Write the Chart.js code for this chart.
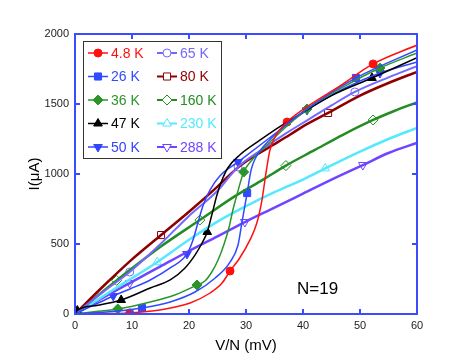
<!DOCTYPE html>
<html>
<head>
<meta charset="utf-8">
<script src="https://cdn.jsdelivr.net/npm/chart.js@4/dist/chart.umd.min.js"></script>
<style>
  html, body { margin: 0; padding: 0; background: #fff; }
</style>
</head>
<body>
<canvas id="ivCanvas" width="471" height="364"></canvas>
<script>
// fitted curves (V/N in mV, I in uA) and measured points per temperature
const v4_8 = [0, 5, 9.6, 14.9, 20.2, 23.7, 25.8, 27.2, 28.9, 30.7, 31.9, 32.8, 33.5, 34.2, 35.3, 37.2, 41.2, 46.5, 52.3, 60];
const i4_8 = [0, 3, 8, 29, 79, 150, 221, 307, 400, 529, 650, 814, 1007, 1171, 1279, 1371, 1493, 1629, 1786, 1921];
const pv4_8 = [9.6, 27.2, 37.2, 52.3];
const pi4_8 = [8, 307, 1371, 1786];

const v26 = [0, 5, 11.75, 16.7, 21.05, 24.6, 27.2, 28.6, 29.3, 30.2, 30.9, 31.75, 33.3, 36.8, 41.2, 49.3, 60];
const i26 = [0, 12, 43, 86, 157, 257, 371, 493, 657, 864, 1029, 1121, 1207, 1343, 1479, 1686, 1886];
const pv26 = [11.75, 30.2, 49.3];
const pi26 = [43, 864, 1686];

const v36 = [0, 3, 7.5, 13.2, 17.5, 21.4, 22.8, 24, 25.1, 26.1, 27, 27.7, 28.4, 29.6, 31.05, 33.3, 36.8, 40.7, 47.4, 53.5, 60];
const i36 = [0, 15, 36, 86, 136, 207, 236, 300, 386, 493, 614, 743, 850, 1014, 1100, 1193, 1329, 1464, 1629, 1757, 1864];
const pv36 = [7.5, 21.4, 29.6, 40.7, 53.5];
const pi36 = [36, 207, 1014, 1464, 1757];

const v47 = [0, 0.4, 4, 8.1, 13.2, 16.7, 19.3, 21.05, 22.3, 23.2, 24, 24.9, 25.8, 26.8, 28.9, 32.5, 36, 40, 45, 52.1, 60];
const i47 = [0, 25, 62, 100, 186, 243, 329, 421, 507, 586, 707, 850, 957, 1043, 1136, 1243, 1340, 1440, 1560, 1686, 1830];
const pv47 = [0.4, 8.1, 23.2, 52.1];
const pi47 = [25, 100, 586, 1686];

const v50 = [0, 3, 6.7, 9.65, 13.2, 16.7, 19.65, 20.7, 21.6, 22.5, 23.7, 25.4, 28.6, 32.5, 40.7, 47.4, 53.5, 60];
const i50 = [0, 58, 129, 179, 243, 329, 429, 529, 657, 779, 886, 986, 1086, 1207, 1457, 1614, 1721, 1800];
const pv50 = [6.7, 19.65, 28.6, 40.7, 53.5];
const pi50 = [129, 429, 1086, 1457, 1721];

const v65 = [0, 5, 9.6, 15, 20, 25, 28.6, 33, 37, 41, 45, 49.1, 55, 60];
const i65 = [0, 160, 300, 500, 700, 880, 1050, 1180, 1290, 1390, 1490, 1586, 1690, 1770];
const pv65 = [9.6, 28.6, 49.1];
const pi65 = [300, 1050, 1586];

const v80 = [0, 5, 10, 15.1, 20, 25, 28.4, 30, 34, 37.7, 40, 44.4, 50, 55, 60];
const i80 = [0, 200, 390, 564, 730, 910, 1040, 1090, 1190, 1280, 1340, 1436, 1560, 1650, 1730];
const pv80 = [15.1, 44.4];
const pi80 = [564, 1436];

const v160 = [0, 7.3, 15, 21.9, 28, 33, 37, 42, 47, 52.3, 56, 60];
const i160 = [0, 240, 480, 671, 840, 960, 1060, 1170, 1280, 1386, 1450, 1512];
const pv160 = [7.3, 21.9, 37, 52.3];
const pi160 = [240, 671, 1060, 1386];

const v230 = [0, 7, 14.4, 20, 25, 30, 35, 40, 43.9, 50, 55, 60];
const i230 = [0, 180, 370, 530, 660, 770, 870, 960, 1040, 1160, 1250, 1330];
const pv230 = [14.4, 43.9];
const pi230 = [370, 1040];

const v288 = [0, 4, 9.6, 15, 20, 25, 29.8, 35, 40, 45, 50.5, 55, 60];
const i288 = [0, 95, 221, 340, 450, 555, 657, 760, 860, 960, 1064, 1150, 1222];
const pv288 = [9.6, 29.8, 50.5];
const pi288 = [221, 657, 1064];

const xTicks = [0, 10, 20, 30, 40, 50, 60];
const yTicks = [0, 500, 1000, 1500, 2000];

const AXIS_BLUE = '#3a4cff';

const series = [
  { name: '4.8 K', v: v4_8, i: i4_8, pv: pv4_8, pi: pi4_8, color: '#ff1010', style: 'circle', open: false, lw: 1.5 },
  { name: '26 K', v: v26, i: i26, pv: pv26, pi: pi26, color: '#2f4bff', style: 'rect', open: false, lw: 1.5 },
  { name: '36 K', v: v36, i: i36, pv: pv36, pi: pi36, color: '#2a962a', style: 'rectRot', open: false, lw: 1.5 },
  { name: '47 K', v: v47, i: i47, pv: pv47, pi: pi47, color: '#000000', style: 'triangle', open: false, lw: 1.5 },
  { name: '50 K', v: v50, i: i50, pv: pv50, pi: pi50, color: '#3344ff', style: 'triangle', rot: 180, open: false, lw: 1.5 },
  { name: '65 K', v: v65, i: i65, pv: pv65, pi: pi65, color: '#7468ff', style: 'circle', open: true, lw: 2 },
  { name: '80 K', v: v80, i: i80, pv: pv80, pi: pi80, color: '#8e0000', style: 'rect', open: true, lw: 2.5 },
  { name: '160 K', v: v160, i: i160, pv: pv160, pi: pi160, color: '#238c23', style: 'rectRot', open: true, lw: 2.5 },
  { name: '230 K', v: v230, i: i230, pv: pv230, pi: pi230, color: '#55e8ff', style: 'triangle', open: true, lw: 2.5 },
  { name: '288 K', v: v288, i: i288, pv: pv288, pi: pi288, color: '#6f45ff', style: 'triangle', rot: 180, open: true, lw: 2.5 }
];

const datasets = [];
// curves first (drawn underneath), then markers
series.forEach(s => {
  datasets.push({
    label: s.name,
    data: s.v.map((x, k) => ({ x: x, y: s.i[k] })),
    borderColor: s.color,
    borderWidth: s.lw,
    pointRadius: 0,
    fill: false,
    cubicInterpolationMode: 'monotone'
  });
});
series.forEach(s => {
  datasets.push({
    label: s.name + ' data',
    data: s.pv.map((x, k) => ({ x: x, y: s.pi[k] })),
    showLine: false,
    pointStyle: s.style,
    rotation: s.rot || 0,
    pointRadius: s.style === 'circle' ? 4 : 5,
    pointBackgroundColor: s.open ? '#ffffff' : s.color,
    pointBorderColor: s.color,
    pointBorderWidth: 1
  });
});

// blue frame with inward ticks, legend box and N label
const decorations = {
  id: 'decorations',
  afterDraw(chart) {
    const ctx = chart.ctx;
    const a = chart.chartArea;
    const xs = chart.scales.x, ys = chart.scales.y;
    ctx.save();
    ctx.strokeStyle = AXIS_BLUE;
    ctx.lineWidth = 2;
    ctx.strokeRect(a.left, a.top, a.right - a.left, a.bottom - a.top);
    ctx.beginPath();
    xTicks.slice(1, -1).forEach(t => {
      const px = xs.getPixelForValue(t);
      ctx.moveTo(px, a.bottom); ctx.lineTo(px, a.bottom - 5);
      ctx.moveTo(px, a.top); ctx.lineTo(px, a.top + 5);
    });
    yTicks.slice(1, -1).forEach(t => {
      const py = ys.getPixelForValue(t);
      ctx.moveTo(a.left, py); ctx.lineTo(a.left + 5, py);
      ctx.moveTo(a.right, py); ctx.lineTo(a.right - 5, py);
    });
    ctx.stroke();

    // legend
    const bx = 83, by = 41, bw = 138, bh = 117;
    ctx.fillStyle = '#ffffff';
    ctx.fillRect(bx, by, bw, bh);
    ctx.strokeStyle = '#333333';
    ctx.lineWidth = 1;
    ctx.strokeRect(bx + 0.5, by + 0.5, bw, bh);
    ctx.font = '14px "Liberation Sans", Arial, sans-serif';
    ctx.textBaseline = 'middle';
    ctx.textAlign = 'left';
    series.forEach((s, k) => {
      const col = Math.floor(k / 5), row = k % 5;
      const x0 = col === 0 ? 88 : 157;
      const y0 = 53 + row * 23.5;
      ctx.strokeStyle = s.color;
      ctx.lineWidth = s.open ? 2 : 1.5;
      ctx.beginPath();
      ctx.moveTo(x0, y0); ctx.lineTo(x0 + 20, y0);
      ctx.stroke();
      ctx.fillStyle = s.open ? '#ffffff' : s.color;
      ctx.lineWidth = 1;
      Chart.helpers.drawPoint(ctx, {
        pointStyle: s.style,
        radius: s.style === 'circle' ? 4 : 5,
        rotation: s.rot || 0,
        borderWidth: 1
      }, x0 + 10, y0);
      ctx.fillStyle = s.color;
      ctx.fillText(s.name, x0 + 23, y0 + 1);
    });

    ctx.fillStyle = '#000000';
    ctx.font = '17px "Liberation Sans", Arial, sans-serif';
    ctx.fillText('N=19', 297, 289);
    ctx.restore();
  }
};

new Chart(document.getElementById('ivCanvas').getContext('2d'), {
  type: 'line',
  data: { datasets: datasets },
  options: {
    responsive: false,
    animation: false,
    layout: { padding: { top: 34, right: 54, left: 0, bottom: 0 } },
    plugins: { legend: { display: false }, tooltip: { enabled: false } },
    scales: {
      x: {
        type: 'linear',
        min: 0,
        max: 60,
        afterFit: s => { s.height = 50; },
        afterBuildTicks: s => { s.ticks = xTicks.map(v => ({ value: v })); },
        ticks: {
          font: { size: 11, family: '"Liberation Sans", Arial' }, color: '#222', padding: 5, maxRotation: 0,
          callback: v => String(v)
        },
        grid: { display: false, drawTicks: false },
        border: { color: AXIS_BLUE, width: 2 },
        title: {
          display: true,
          text: 'V/N (mV)',
          font: { size: 15, family: '"Liberation Sans", Arial' },
          color: '#000',
          padding: { top: 9, bottom: 9 }
        }
      },
      y: {
        type: 'linear',
        min: 0,
        max: 2000,
        afterFit: s => { s.width = 75; },
        afterBuildTicks: s => { s.ticks = yTicks.map(v => ({ value: v })); },
        ticks: {
          font: { size: 11, family: '"Liberation Sans", Arial' }, color: '#222', padding: 6,
          callback: v => String(v)
        },
        grid: { display: false, drawTicks: false },
        border: { color: AXIS_BLUE, width: 2 },
        title: {
          display: true,
          text: 'I(μA)',
          font: { size: 15, family: '"Liberation Sans", Arial' },
          color: '#000',
          padding: { top: 26, bottom: 26 }
        }
      }
    }
  },
  plugins: [decorations]
});
</script>
</body>
</html>
